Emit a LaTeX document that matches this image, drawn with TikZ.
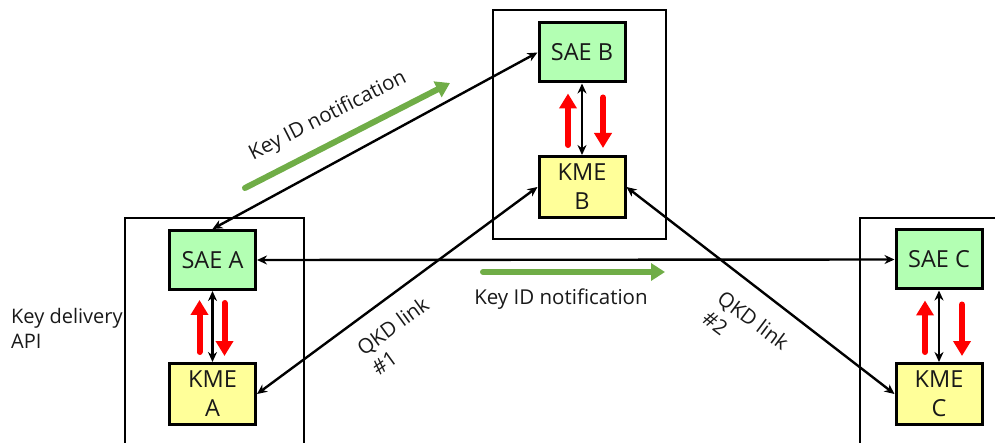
\documentclass[tikz,border=0pt]{standalone}
\usepackage{fontspec}
\setmainfont{Open Sans}
\usetikzlibrary{arrows.meta,calc}
\definecolor{saeg}{RGB}{179,255,179}
\definecolor{kmey}{RGB}{255,255,153}
\definecolor{grn}{RGB}{112,173,71}
\definecolor{txt}{RGB}{25,25,25}
\begin{document}
\begin{tikzpicture}[x=1pt,y=-1pt,
  boxtext/.style={font=\fontsize{23.5}{29}\selectfont,text=txt,align=center},
  sae/.style={boxtext,draw=black,line width=3pt,fill=saeg,minimum width=86pt,minimum height=59pt,inner sep=0pt},
  kme/.style={sae,fill=kmey,minimum height=61pt},
  frame/.style={draw=black,line width=2.8pt},
  conn/.style={draw=black,line width=2.4pt,{Stealth[length=10pt,width=9pt]}-{Stealth[length=10pt,width=9pt]}},
  redarr/.style={draw=red,line width=6pt,line cap=round,-{Triangle[length=15pt,width=17pt]}},
  grnarr/.style={draw=grn,line width=6pt,line cap=round,-{Triangle[length=14pt,width=17pt]}},
  lbl/.style={font=\fontsize{20.5}{25}\selectfont,text=txt,inner sep=0pt}
]
\useasboundingbox (0,0) rectangle (995,443);
% frames
\draw[frame] (125,446) -- (125,218) -- (304,218) -- (304,446);
\draw[frame] (493,10) rectangle (666,239);
\draw[frame] (860,446) -- (860,218) -- (998,218);
% boxes
\node[sae] (SAEA) at (212.5,260) {SAE A};
\node[kme] (KMEA) at (212.5,394) {KME\\A};
\node[sae] (SAEB) at (582,52.5) {SAE B};
\node[kme] (KMEB) at (582,187) {KME\\B};
\node[sae] (SAEC) at (939,259.5) {SAE C};
\node[kme] (KMEC) at (939,394) {KME\\C};
% vertical connectors
\draw[conn] (SAEA.south) -- (KMEA.north);
\draw[conn] (SAEB.south) -- (KMEB.north);
\draw[conn] (SAEC.south) -- (KMEC.north);
% red arrows
\draw[redarr] ($(KMEA.north)+(-13,-10)$) -- ($(SAEA.south)+(-13,9)$);
\draw[redarr] ($(SAEA.south)+(12,12)$) -- ($(KMEA.north)+(12,-6)$);
\draw[redarr] ($(KMEB.north)+(-14,-10)$) -- ($(SAEB.south)+(-14,10)$);
\draw[redarr] ($(SAEB.south)+(21,14)$) -- ($(KMEB.north)+(21,-7)$);
\draw[redarr] ($(KMEC.north)+(-14,-10)$) -- ($(SAEC.south)+(-14,10)$);
\draw[redarr] ($(SAEC.south)+(23,14)$) -- ($(KMEC.north)+(23,-6)$);
% diagonal / horizontal connectors
\draw[conn] (SAEA.north) -- (SAEB.west);
\draw[conn] (SAEA.east) -- (SAEC.west);
\draw[conn] (KMEA.east) -- (KMEB.west);
\draw[conn] (KMEB.east) -- (KMEC.west);
% green notification arrows
\coordinate (g1s) at (245,188);
\coordinate (g1e) at (450,83);
\coordinate (g2s) at (483,272);
\coordinate (g2e) at (665,272);
\draw[grnarr] (g1s) -- (g1e);
\draw[grnarr] (g2s) -- (g2e);
% labels
\node[lbl,rotate=27] (n1) at (328,116) {Key ID notification};
\node[lbl] (n2) at (561,299) {Key ID notification};
\node[lbl,align=left,anchor=west,font=\fontsize{20}{25}\selectfont] (api) at (11,328) {Key delivery\\API};
\node[lbl,align=left,rotate=36] (q1) at (400,336) {QKD link\\\#1};
\node[lbl,align=left,rotate=-37] (q2) at (746,330) {QKD link\\\#2};
\end{tikzpicture}
\end{document}
